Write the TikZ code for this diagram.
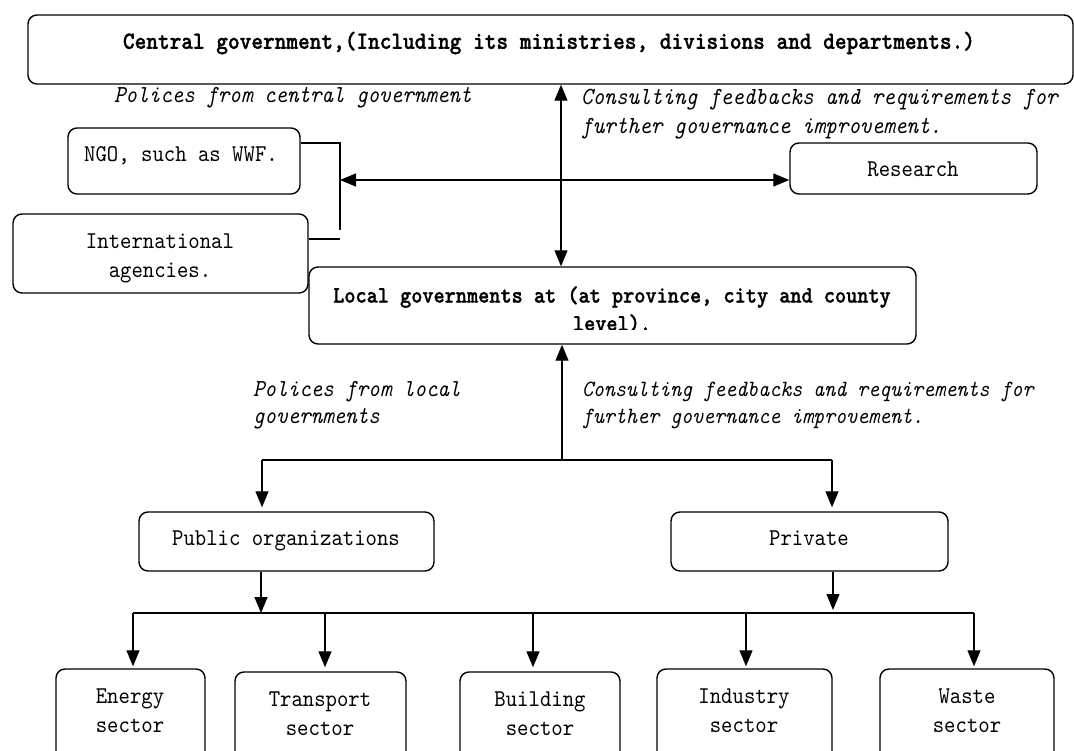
\documentclass[tikz,border=0pt]{standalone}
\usepackage{fontspec}
\newfontfamily\lmm{lmmono10-regular.otf}[BoldFont=lmmonolt10-bold.otf, BoldFeatures={FakeBold=1.2}, ItalicFont=lmmono10-italic.otf, FakeStretch=0.9]
\usetikzlibrary{arrows.meta,calc}
\begin{document}
\begin{tikzpicture}[x=1pt,y=-1pt,
  box/.style={draw, line width=1.4pt, rounded corners=9pt, inner sep=0pt},
  lbl/.style={inner sep=0pt, font=\lmm\fontsize{24.1}{29}\selectfont, align=center},
  blbl/.style={inner sep=0pt, font=\lmm\bfseries\fontsize{24.7}{29}\selectfont, align=center},
  ann/.style={inner sep=0pt, font=\lmm\itshape\fontsize{24.4}{29}\selectfont, align=left, anchor=west},
  conn/.style={line width=1.3pt},
  arr/.style={conn, -{Triangle[length=16pt,width=13pt]}},
  darr/.style={conn, {Triangle[length=16pt,width=13pt]}-{Triangle[length=16pt,width=13pt]}},
]
\fill[white] (0,0) rectangle (1074,751);
\useasboundingbox (0,0) rectangle (1074,751);
\clip (0,0) rectangle (1074,751);

% boxes
\node[box, minimum width=1045pt, minimum height=69pt] (central) at (550.5,49.5) {};
\node[box, minimum width=232pt, minimum height=66pt] (ngo) at (184,161) {};
\node[box, minimum width=295pt, minimum height=79pt] (intl) at (160.5,253.5) {};
\node[box, minimum width=247pt, minimum height=51pt] (research) at (913.5,168.5) {};
\node[box, minimum width=607pt, minimum height=77pt] (local) at (612.5,305.5) {};
\node[box, minimum width=295pt, minimum height=59pt] (public) at (286.5,541.5) {};
\node[box, minimum width=277pt, minimum height=59pt] (private) at (809.5,541.5) {};
\node[box, minimum width=149pt, minimum height=111pt] (energy) at (130.5,724.5) {};
\node[box, minimum width=171pt, minimum height=108pt] (transport) at (320.5,726) {};
\node[box, minimum width=160pt, minimum height=108pt] (building) at (540,726) {};
\node[box, minimum width=175pt, minimum height=111pt] (industry) at (744.5,724.5) {};
\node[box, minimum width=174pt, minimum height=111pt] (waste) at (967,724.5) {};

% box texts
\node[blbl] (centralT) at (549,43) {\strut Central government,(Including its ministries, divisions and departments.)};
\node[lbl] (ngoT) at (181,156) {\strut NGO, such as WWF.};
\node[lbl] (intlT) at (160,257.5) {\strut International\\\strut agencies.};
\node[lbl] (researchT) at (913,171) {\strut Research};
\begin{scope}
\clip (309,267) rectangle (916,330);
\node[blbl, font=\lmm\bfseries\fontsize{23.6}{28}\selectfont] (localT) at (612,311) {\strut Local governments at (at province, city and county\\\strut level).};
\end{scope}
\node[lbl] (publicT) at (286,540) {\strut Public organizations};
\node[lbl] (privateT) at (809,540) {\strut Private};
\node[lbl] (energyT) at (130,712.5) {\strut Energy\\\strut sector};
\node[lbl] (transportT) at (320,715.5) {\strut Transport\\\strut sector};
\node[lbl] (buildingT) at (540,715.5) {\strut Building\\\strut sector};
\node[lbl] (industryT) at (744,712) {\strut Industry\\\strut sector};
\node[lbl] (wasteT) at (967,712) {\strut Waste\\\strut sector};

% annotations
\node[ann] (polC) at (114,97) {\strut Polices from central government};
\node[ann, font=\lmm\itshape\fontsize{24.6}{29}\selectfont] (consC) at (581,113.5) {\strut Consulting feedbacks and requirements for\\\strut further governance improvement.};
\node[ann, font=\lmm\itshape\fontsize{24.4}{27}\selectfont] (polL) at (253,405) {\strut Polices from local\\\strut governments};
\node[ann, font=\lmm\itshape\fontsize{23.3}{27}\selectfont] (consL) at (582,405) {\strut Consulting feedbacks and requirements for\\\strut further governance improvement.};

% connectors: top part
\coordinate (vx) at (561,0);
\draw[darr] (central.south -| vx) -- (local.north -| vx);
\coordinate (brk) at (340,180);
\draw[darr] (brk) -- (brk -| research.west);
\coordinate (brtop) at (340,143);
\coordinate (brbot) at (340,230);
\coordinate (brint) at (340,239);
\draw[conn] (ngo.east |- brtop) -- (brtop) -- (brbot);
\draw[conn] (intl.east |- brint) -- (brint);

% middle part
\coordinate (j) at (562,460);
\coordinate (jl) at (262,460);
\coordinate (jr) at (832,460);
\draw[arr] (j) -- (local.south -| j);
\draw[conn] (jl) -- (jr);
\draw[arr, shorten >=4pt] (jl) -- (public.north -| jl);
\draw[arr, shorten >=4pt] (jr) -- (private.north -| jr);

% bus to sectors
\coordinate (b1) at (133,613);
\coordinate (b2) at (325,613);
\coordinate (b3) at (533,613);
\coordinate (b4) at (746,613);
\coordinate (b5) at (974,613);
\coordinate (pb) at (261,613);
\coordinate (qb) at (833,613);
\draw[conn] (b1) -- (b5);
\draw[arr] (public.south -| pb) -- (pb);
\draw[arr, shorten >=3pt] (private.south -| qb) -- (qb);
\draw[arr, shorten >=2pt] (b1) -- (energy.north -| b1);
\draw[arr, shorten >=4pt] (b2) -- (transport.north -| b2);
\draw[arr, shorten >=4pt] (b3) -- (building.north -| b3);
\draw[arr, shorten >=2pt] (b4) -- (industry.north -| b4);
\draw[arr, shorten >=2pt] (b5) -- (waste.north -| b5);
\end{tikzpicture}
\end{document}
